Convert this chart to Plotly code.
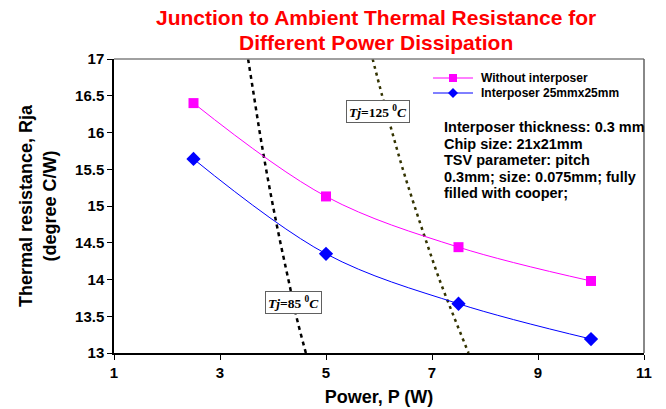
import plotly.graph_objects as go

power = [2.5, 5, 7.5, 10]
rja_without = [16.40, 15.13, 14.44, 13.98]
rja_interposer = [15.64, 14.35, 13.67, 13.19]

# Tj iso-lines
tj85_power = [3.53, 3.64, 3.75, 3.87, 4.00, 4.14, 4.29, 4.44, 4.62]
tj85_rja = [17.0, 16.5, 16.0, 15.5, 15.0, 14.5, 14.0, 13.5, 13.0]
tj125_power = [5.88, 6.06, 6.25, 6.45, 6.67, 6.90, 7.14, 7.41, 7.69]
tj125_rja = [17.0, 16.5, 16.0, 15.5, 15.0, 14.5, 14.0, 13.5, 13.0]

x_ticks = [1, 3, 5, 7, 9, 11]
y_ticks = [13, 13.5, 14, 14.5, 15, 15.5, 16, 16.5, 17]

series_names = ["Without interposer", "Interposer 25mmx25mm"]
series_colors = ["#FF00FF", "#0000FF"]

title_lines = ["Junction to Ambient Thermal Resistance for", "Different Power Dissipation"]
note_lines = ["Interposer thickness: 0.3 mm", "Chip size: 21x21mm", "TSV parameter: pitch",
              "0.3mm; size: 0.075mm; fully", "filled with cooper;"]

ARIAL = "Liberation Sans, Arial, sans-serif"
TIMES = "Liberation Serif, Times New Roman, serif"

W, H = 666, 409
L, R, T, B = 114, 22, 59, 56
PW, PH = W - L - R, H - T - B


def px(xp):
    return (xp - L) / PW


def py(yp):
    return 1 - (yp - T) / PH


fig = go.Figure()
fig.add_trace(go.Scatter(x=tj85_power, y=tj85_rja, mode="lines", showlegend=False,
                         line=dict(color="black", width=2.5, dash="4px,4px"), line_shape="spline",
                         hoverinfo="skip"))
fig.add_trace(go.Scatter(x=tj125_power, y=tj125_rja, mode="lines", showlegend=False,
                         line=dict(color="#333300", width=2.5, dash="3px,4px"), line_shape="spline",
                         hoverinfo="skip"))
fig.add_trace(go.Scatter(x=power, y=rja_without, mode="lines+markers", name=series_names[0],
                         showlegend=False,
                         line=dict(color=series_colors[0], width=1), line_shape="spline",
                         marker=dict(symbol="square", size=10, color=series_colors[0])))
fig.add_trace(go.Scatter(x=power, y=rja_interposer, mode="lines+markers", name=series_names[1],
                         showlegend=False,
                         line=dict(color=series_colors[1], width=1), line_shape="spline",
                         marker=dict(symbol="diamond", size=11, color=series_colors[1])))

# manual legend (compact rows like the original)
leg_rows = [78, 93]
for i, (nm, col) in enumerate(zip(series_names, series_colors)):
    yy = py(leg_rows[i])
    fig.add_shape(type="line", xref="paper", yref="paper", x0=px(433), x1=px(473), y0=yy, y1=yy,
                  line=dict(color=col, width=1))
    if i == 0:
        fig.add_shape(type="rect", xref="paper", yref="paper", x0=px(449), x1=px(457),
                      y0=py(leg_rows[i] + 4), y1=py(leg_rows[i] - 4),
                      line=dict(color=col, width=0), fillcolor=col)
    else:
        cx, cy = 453, leg_rows[i]
        fig.add_shape(type="path", xref="paper", yref="paper",
                      path=f"M {px(cx - 5)} {py(cy)} L {px(cx)} {py(cy - 5)} L {px(cx + 5)} {py(cy)} L {px(cx)} {py(cy + 5)} Z",
                      line=dict(color=col, width=0), fillcolor=col)
    fig.add_annotation(x=px(479), y=yy, xref="paper", yref="paper", showarrow=False,
                       xanchor="left", yanchor="middle", text=f"<b>{nm}</b>",
                       font=dict(family=ARIAL, size=12, color="black"))

fig.add_annotation(x=5.98, y=16.28, xref="x", yref="y", showarrow=False,
                   text="<b><i>Tj</i>=125 <sup>0</sup><i>C</i></b>",
                   font=dict(family=TIMES, size=13.5, color="black"),
                   bgcolor="white", bordercolor="#606060", borderwidth=1, borderpad=2)
fig.add_annotation(x=4.38, y=13.69, xref="x", yref="y", showarrow=False,
                   text="<b><i>Tj</i>=85 <sup>0</sup><i>C</i></b>",
                   font=dict(family=TIMES, size=13.5, color="black"),
                   bgcolor="white", bordercolor="#606060", borderwidth=1, borderpad=2)

for i, ln in enumerate(note_lines):
    fig.add_annotation(x=px(442), y=py(127 + 16.5 * i), xref="paper", yref="paper", showarrow=False,
                       xanchor="left", yanchor="middle", align="left",
                       text=f"<b>{ln}</b>",
                       font=dict(family=ARIAL, size=14.5, color="black"))

# title
for i, ln in enumerate(title_lines):
    fig.add_annotation(x=px(376), y=py(17 + 25 * i), xref="paper", yref="paper", showarrow=False,
                       xanchor="center", yanchor="middle",
                       text=f"<b>{ln}</b>",
                       font=dict(family=ARIAL, size=21, color="#FF0000"))

fig.update_layout(
    width=W, height=H,
    margin=dict(l=L, r=R, t=T, b=B),
    paper_bgcolor="white", plot_bgcolor="white",
    font=dict(family=ARIAL, size=15, color="black"),
    showlegend=False,
)
fig.update_xaxes(range=[1, 11], tickvals=x_ticks, ticktext=[f"<b>{v}</b>" for v in x_ticks],
                 showgrid=False, zeroline=False, showline=True, linecolor="black", linewidth=1.5,
                 ticks="outside", ticklen=5, tickcolor="black", mirror=False, automargin=False,
                 title=dict(text="<b>Power, P (W)</b>", font=dict(family=ARIAL, size=18), standoff=11),
                 tickfont=dict(family=ARIAL, size=15))
fig.update_yaxes(range=[13, 17], tickvals=y_ticks, ticktext=[f"<b>{v:g}</b>" for v in y_ticks],
                 showgrid=False, zeroline=False, showline=True, linecolor="black", linewidth=1.5,
                 ticks="outside", ticklen=5, tickcolor="black", automargin=False,
                 title=dict(text="<b>Thermal resistance, Rja<br>(degree C/W)</b>", font=dict(family=ARIAL, size=18), standoff=14),
                 tickfont=dict(family=ARIAL, size=15))
# top and right borders (gray)
fig.add_shape(type="line", xref="paper", yref="paper", x0=0, x1=1, y0=1, y1=1,
              line=dict(color="#808080", width=1.5))
fig.add_shape(type="line", xref="paper", yref="paper", x0=1, x1=1, y0=0, y1=1,
              line=dict(color="#606060", width=1.5))

fig.write_html("out.html")
